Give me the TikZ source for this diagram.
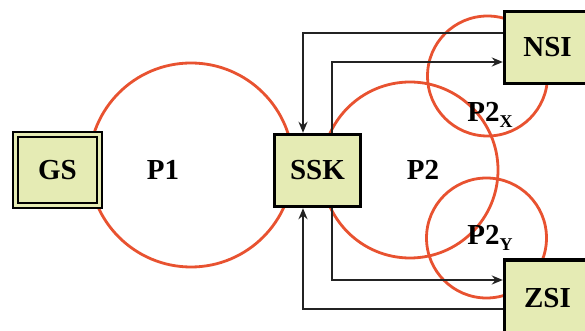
\documentclass[tikz,border=0pt]{standalone}
\usepackage{fontspec}
\setmainfont{Liberation Serif}
\usetikzlibrary{arrows.meta}
\definecolor{ring}{RGB}{232,82,48}
\definecolor{boxfill}{RGB}{229,235,180}
\definecolor{wire}{RGB}{35,35,35}
\tikzset{
  ringline/.style={draw=ring, line width=2.8pt},
  blockbox/.style={draw=black, fill=boxfill, line width=3.4pt, minimum width=86pt, minimum height=72pt, inner sep=0pt, font=\fontsize{29}{29}\selectfont\bfseries},
  gsbox/.style={draw=black, fill=boxfill, double=boxfill, double distance=2.6pt, line width=2.3pt, minimum width=84pt, minimum height=71pt, inner sep=0pt, font=\fontsize{29}{29}\selectfont\bfseries},
  lbl/.style={inner sep=0pt, font=\fontsize{29}{29}\selectfont\bfseries},
  arr/.style={draw=wire, line width=1.8pt, -{Stealth[length=11pt,width=9pt]}},
}
\newcommand{\subsc}[1]{\raisebox{-0.18em}{\fontsize{18}{18}\selectfont #1}}
\begin{document}
\begin{tikzpicture}[x=1pt,y=1pt]
\useasboundingbox (0,0) rectangle (585,331);
\clip (0,0) rectangle (585,331);
\fill[white] (0,0) rectangle (585,331);
% circles
\draw[ringline] (191,166) circle (102);
\draw[ringline] (410,161) circle (88);
\draw[ringline] (487.5,255) circle (60);
\draw[ringline] (486.5,93) circle (60);
% boxes
\node[gsbox] (GS) at (57.5,161) {GS};
\node[blockbox] (SSK) at (317.5,160.5) {SSK};
\node[blockbox] (NSI) at (547.5,283.5) {NSI};
\node[blockbox, minimum height=76pt] (ZSI) at (547.5,33) {ZSI};
% connectors
\draw[arr] ([yshift=14.5pt]NSI.west) -| ([xshift=-14.5pt]SSK.north);
\draw[arr] ([xshift=14.5pt]SSK.north) |- ([yshift=-14.5pt]NSI.west);
\draw[arr] ([xshift=14.5pt]SSK.south) |- ([yshift=18pt]ZSI.west);
\draw[arr] ([yshift=-11pt]ZSI.west) -| ([xshift=-14.5pt]SSK.south);
% redraw boxes on top of connectors
\node[blockbox] at (SSK) {SSK};
\node[blockbox] at (NSI) {NSI};
\node[blockbox, minimum height=76pt] at (ZSI) {ZSI};
% labels
\node[lbl] (P1) at (163,161) {P1};
\node[lbl] (P2) at (423,161) {P2};
\node[lbl] (P2X) at (490,216) {P2\subsc{X}};
\node[lbl] (P2Y) at (490,93) {P2\subsc{Y}};
\end{tikzpicture}
\end{document}
